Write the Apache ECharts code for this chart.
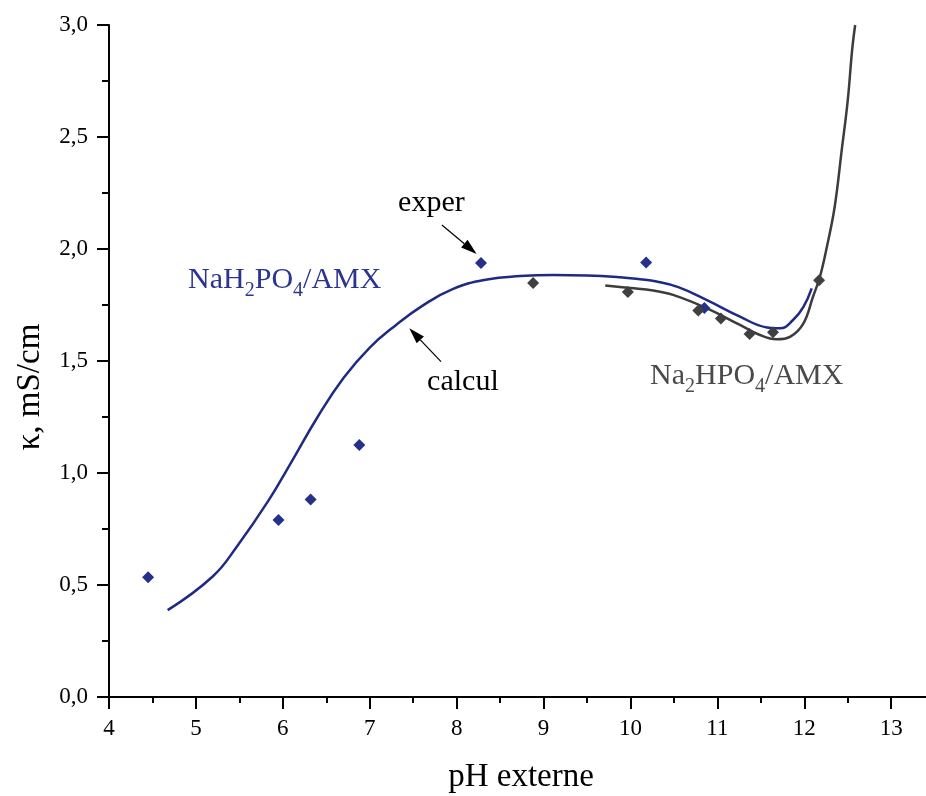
<!DOCTYPE html>
<html><head><meta charset="utf-8">
<script src="https://cdn.jsdelivr.net/npm/echarts@6/dist/echarts.min.js"></script>
<style>html,body{margin:0;padding:0;background:#fff}#c{width:926px;height:796px}</style>
</head><body><div id="c"></div>
<script>
// ---- data ----
const calcNaH2PO4 = [[4.675,0.388],[5.19,0.537],[5.47,0.671],[5.84,0.88],[6.1,1.05],[6.4,1.25],[6.7,1.425],[7.0,1.56],[7.3,1.66],[7.6,1.745],[7.96,1.822],[8.35,1.864],[8.73,1.879],[9.11,1.884],[9.5,1.882],[9.88,1.874],[10.11,1.865],[10.3,1.855],[10.55,1.83],[10.88,1.772],[11.26,1.698],[11.57,1.650],[11.72,1.646],[11.87,1.683],[11.99,1.742],[12.085,1.824]];
const calcNa2HPO4 = [[9.71,1.837],[10.0,1.826],[10.26,1.815],[10.49,1.795],[10.88,1.735],[11.26,1.661],[11.49,1.616],[11.68,1.597],[11.84,1.609],[11.99,1.668],[12.10,1.787],[12.18,1.876],[12.26,2.01],[12.35,2.19],[12.43,2.44],[12.50,2.665],[12.55,2.888],[12.585,3.0]];
const experNaH2PO4 = [[4.45,0.535],[5.95,0.79],[6.32,0.882],[6.88,1.125],[8.28,1.938],[10.18,1.94],[10.85,1.737]];
const experNa2HPO4 = [[8.88,1.848],[9.97,1.808],[10.78,1.725],[11.04,1.69],[11.37,1.62],[11.64,1.628],[12.17,1.86]];
const xMajorTicks = [4,5,6,7,8,9,10,11,12,13];
const xMinorTicks = [4.5,5.5,6.5,7.5,8.5,9.5,10.5,11.5,12.5];
const xTitle = 'pH externe';
const yTitle = 'κ, mS/cm';

const FONT = '"Liberation Serif","Times New Roman",serif';
const chart = echarts.init(document.getElementById('c'));
const axisCol = '#000';
chart.setOption({
  animation: false,
  backgroundColor: '#fff',
  grid: {left: 109, right: 0, top: 25, bottom: 99},
  xAxis: [{
    type: 'value', min: 4, max: 13.4,
    axisLine: {show: true, onZero: false, lineStyle: {color: axisCol, width: 2}},
    axisTick: {show: true, customValues: xMajorTicks, length: 12, lineStyle: {color: axisCol, width: 2}},
    axisLabel: {customValues: xMajorTicks, margin: 20, fontSize: 23, fontFamily: FONT, color: '#000'},
    splitLine: {show: false}
  }, {
    type: 'value', min: 4, max: 13.4, position: 'bottom', offset: 0,
    axisLine: {show: false},
    axisTick: {show: true, customValues: xMinorTicks, length: 6, lineStyle: {color: axisCol, width: 2}},
    axisLabel: {show: false},
    splitLine: {show: false}
  }],
  yAxis: {
    type: 'value', min: 0, max: 3, interval: 0.5,
    axisLine: {show: true, onZero: false, lineStyle: {color: axisCol, width: 2}},
    axisTick: {show: true, length: 12, lineStyle: {color: axisCol, width: 2}},
    minorTick: {show: true, splitNumber: 2, length: 7, lineStyle: {color: axisCol, width: 2}},
    axisLabel: {margin: 21, fontSize: 23, fontFamily: FONT, color: '#000',
      formatter: v => v.toFixed(1).replace('.', ',')},
    splitLine: {show: false}
  },
  series: [
    {type: 'line', data: calcNaH2PO4, smooth: 0.45, showSymbol: false, lineStyle: {color: '#1f2a84', width: 2.5}, z: 2},
    {type: 'line', data: calcNa2HPO4, smooth: 0.4, showSymbol: false, lineStyle: {color: '#3c3c3c', width: 2.5}, z: 2},
    {type: 'scatter', data: experNaH2PO4, symbol: 'diamond', symbolSize: 12, itemStyle: {color: '#25308a', opacity: 1}, z: 3},
    {type: 'scatter', data: experNa2HPO4, symbol: 'diamond', symbolSize: 12, itemStyle: {color: '#404040', opacity: 1}, z: 4}
  ]
});

function px(x, y) { return chart.convertToPixel({gridIndex: 0}, [x, y]); }
function arrow(from, to) {
  const a = px(from[0], from[1]), b = px(to[0], to[1]);
  const dx = b[0]-a[0], dy = b[1]-a[1], L = Math.hypot(dx, dy);
  const ux = dx/L, uy = dy/L, hl = 16, hw = 5;
  const bx = b[0]-ux*hl, by = b[1]-uy*hl;
  return [
    {type: 'line', shape: {x1: a[0], y1: a[1], x2: bx, y2: by}, style: {stroke: '#000', lineWidth: 1.2}, z: 10},
    {type: 'polygon', shape: {points: [[b[0], b[1]], [bx - uy*hw, by + ux*hw], [bx + uy*hw, by - ux*hw]]}, style: {fill: '#000'}, z: 10}
  ];
}
const pBlue = px(4.91, 1.862), pGray = px(10.225, 1.433), pExp = px(7.326, 2.205), pCalc = px(7.66, 1.406);
const subRich = (col) => ({
  n: {fontSize: 30, fontFamily: FONT, fill: col, color: col},
  s: {fontSize: 20, fontFamily: FONT, fill: col, color: col, padding: [22, 0, 0, 0]}
});
chart.setOption({
  graphic: [
    {type: 'text', x: 30, y: 387, rotation: Math.PI/2, style: {text: yTitle, font: '33px ' + FONT, fill: '#000', align: 'center', verticalAlign: 'middle'}},
    {type: 'text', x: 521, y: 777, style: {text: xTitle, font: '33px ' + FONT, fill: '#000', align: 'center', verticalAlign: 'middle'}},
    {type: 'text', x: pBlue[0], y: pBlue[1], style: {text: '{n|NaH}{s|2}{n|PO}{s|4}{n|/AMX}', rich: subRich('#2b3590'), fill: '#2b3590', align: 'left', verticalAlign: 'middle'}},
    {type: 'text', x: pGray[0], y: pGray[1], style: {text: '{n|Na}{s|2}{n|HPO}{s|4}{n|/AMX}', rich: subRich('#4a4a4a'), fill: '#4a4a4a', align: 'left', verticalAlign: 'middle'}},
    {type: 'text', x: pExp[0], y: pExp[1], style: {text: 'exper', font: '30px ' + FONT, fill: '#000', align: 'left', verticalAlign: 'middle'}},
    {type: 'text', x: pCalc[0], y: pCalc[1], style: {text: 'calcul', font: '30px ' + FONT, fill: '#000', align: 'left', verticalAlign: 'middle'}},
    ...arrow([7.83, 2.107], [8.23, 1.978]),
    ...arrow([7.82, 1.497], [7.455, 1.646])
  ]
});
</script>
</body></html>
